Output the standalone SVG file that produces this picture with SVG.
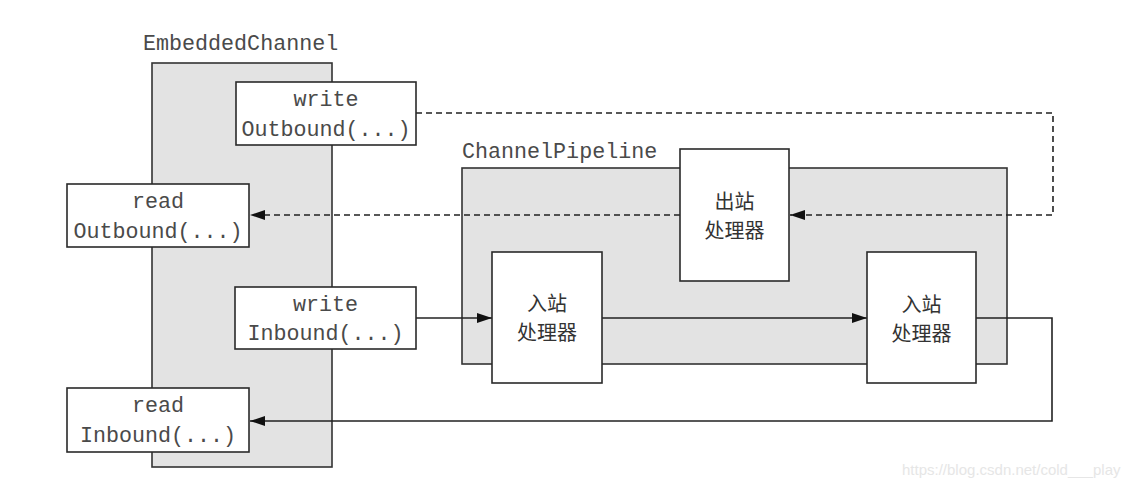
<svg xmlns="http://www.w3.org/2000/svg" width="1142" height="488" viewBox="0 0 1142 488">
<defs>
<style>
.bg{fill:#ffffff}
.cont{fill:#e3e3e3;stroke:#333;stroke-width:1.6}
.box{fill:#ffffff;stroke:#2a2a2a;stroke-width:1.6}
.mono{font-family:"Liberation Mono","DejaVu Sans Mono",monospace;font-size:21.7px;fill:#4a4a4a}
.cjk{font-family:"Noto Sans CJK SC","Noto Sans CJK JP",sans-serif;font-size:20px;fill:#333}
.ln{fill:none;stroke:#222;stroke-width:1.6}
.dash{stroke-dasharray:6 4}
.wm{font-family:"Liberation Sans",Arial,sans-serif;font-size:15px;fill:#e6e6e6}
</style>
<marker id="arr" markerUnits="userSpaceOnUse" markerWidth="16" markerHeight="10" refX="15" refY="5" orient="auto">
<path d="M0,0 L15,5 L0,10 Z" fill="#111"/>
</marker>
</defs>
<rect class="bg" x="0" y="0" width="1142" height="488"/>

<g id="embeddedChannel">
<rect class="cont" x="152" y="63" width="180" height="404"/>
<text class="mono" x="143" y="50">EmbeddedChannel</text>
</g>
<g id="channelPipeline">
<rect class="cont" x="462" y="168" width="545" height="196"/>
<text class="mono" x="462" y="158">ChannelPipeline</text>
</g>

<g id="connectors">
<polyline class="ln dash" points="416,113 1053,113 1053,215 790,215" marker-end="url(#arr)"/>
<line class="ln dash" x1="680" y1="215" x2="250" y2="215" marker-end="url(#arr)"/>
<line class="ln" x1="416" y1="318" x2="492" y2="318" marker-end="url(#arr)"/>
<line class="ln" x1="602" y1="318" x2="867" y2="318" marker-end="url(#arr)"/>
<polyline class="ln" points="976,318 1052,318 1052,421 250,421" marker-end="url(#arr)"/>
</g>

<g id="writeOutbound">
<rect class="box" x="236" y="82" width="180" height="63"/>
<text class="mono" x="326" y="106" text-anchor="middle">write</text>
<text class="mono" x="326" y="136" text-anchor="middle">Outbound(...)</text>
</g>
<g id="readOutbound">
<rect class="box" x="67" y="184" width="182" height="63"/>
<text class="mono" x="158" y="208" text-anchor="middle">read</text>
<text class="mono" x="158" y="238" text-anchor="middle">Outbound(...)</text>
</g>
<g id="writeInbound">
<rect class="box" x="235" y="287" width="181" height="62"/>
<text class="mono" x="325.5" y="311" text-anchor="middle">write</text>
<text class="mono" x="325.5" y="340" text-anchor="middle">Inbound(...)</text>
</g>
<g id="readInbound">
<rect class="box" x="67" y="388" width="182" height="64"/>
<text class="mono" x="158" y="412" text-anchor="middle">read</text>
<text class="mono" x="158" y="442" text-anchor="middle">Inbound(...)</text>
</g>
<g id="outboundHandler">
<rect class="box" x="680" y="149" width="109" height="132"/>
<text class="cjk" x="734.5" y="209" text-anchor="middle">出站</text>
<text class="cjk" x="734.5" y="238" text-anchor="middle">处理器</text>
</g>
<g id="inboundHandler1">
<rect class="box" x="492" y="252" width="110" height="131"/>
<text class="cjk" x="547" y="311" text-anchor="middle">入站</text>
<text class="cjk" x="547" y="340" text-anchor="middle">处理器</text>
</g>
<g id="inboundHandler2">
<rect class="box" x="867" y="252" width="109" height="131"/>
<text class="cjk" x="921.5" y="312" text-anchor="middle">入站</text>
<text class="cjk" x="921.5" y="341" text-anchor="middle">处理器</text>
</g>
<text class="wm" x="902" y="475">https://blog.csdn.net/cold___play</text>
</svg>
